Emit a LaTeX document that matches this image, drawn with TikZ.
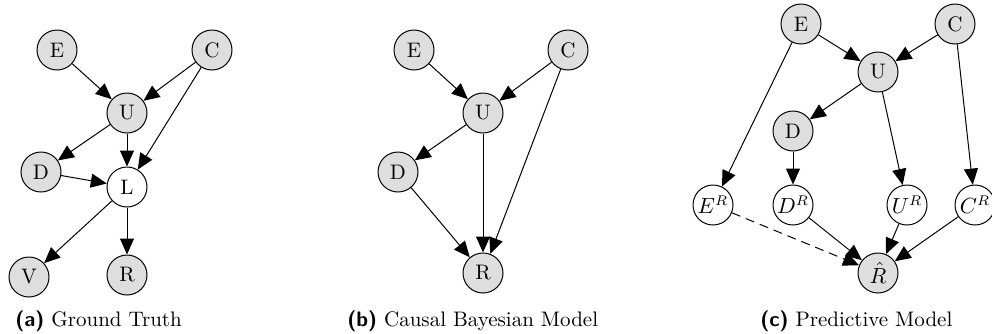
\documentclass[tikz,border=0pt]{standalone}
\usetikzlibrary{arrows.meta}
\begin{document}
\begin{tikzpicture}[x=0.5pt,y=-0.5pt,
  obs/.style={circle,draw,line width=0.5pt,fill=black!13,minimum size=20pt,inner sep=0pt,font=\fontsize{10.5}{12}\selectfont},
  lat/.style={obs,fill=white},
  arr/.style={line width=0.5pt,-{Triangle[length=8pt,width=7pt]}},
  captext/.style={anchor=base west,inner sep=0pt,font=\fontsize{10.5}{12}\selectfont}]
\useasboundingbox (0,0) rectangle (992,333);
% (a)
\node[obs] (aE) at (57,50) {E};
\node[obs] (aC) at (212,50) {C};
\node[obs] (aU) at (127,113) {U};
\node[obs] (aD) at (41,172) {D};
\node[lat] (aL) at (127,187) {L};
\node[obs] (aV) at (29,277) {V};
\node[obs] (aR) at (127,275) {R};
\draw[arr] (aE) -- (aU);
\draw[arr] (aC) -- (aU);
\draw[arr] (aC) -- (aL);
\draw[arr] (aU) -- (aD);
\draw[arr] (aU) -- (aL);
\draw[arr] (aD) -- (aL);
\draw[arr] (aL) -- (aV);
\draw[arr] (aL) -- (aR);
\node[captext] (capa) at (15,326) {\textsf{\bfseries (a)} Ground Truth};
% (b)
\node[obs] (bE) at (414,50) {E};
\node[obs] (bC) at (568,50) {C};
\node[obs] (bU) at (483,113) {U};
\node[obs] (bD) at (398,172) {D};
\node[obs] (bR) at (483,273) {R};
\draw[arr] (bE) -- (bU);
\draw[arr] (bC) -- (bU);
\draw[arr] (bU) -- (bD);
\draw[arr] (bU) -- (bR);
\draw[arr] (bD) -- (bR);
\draw[arr] (bC) -- (bR);
\node[captext] (capb) at (347,326) {\textsf{\bfseries (b)} Causal Bayesian Model};
% (c)
\node[obs] (cE) at (801,24) {E};
\node[obs] (cC) at (955,24) {C};
\node[obs] (cU) at (878,72) {U};
\node[obs] (cD) at (793,131) {D};
\node[lat] (cER) at (713,205) {$E^R$};
\node[lat] (cDR) at (793,205) {$D^R$};
\node[lat] (cUR) at (907,205) {$U^R$};
\node[lat] (cCR) at (975,205) {$C^R$};
\node[obs] (cR) at (878,273) {$\hat{R}$};
\draw[arr] (cE) -- (cU);
\draw[arr] (cC) -- (cU);
\draw[arr] (cU) -- (cD);
\draw[arr] (cE) -- (cER);
\draw[arr] (cD) -- (cDR);
\draw[arr] (cU) -- (cUR);
\draw[arr] (cC) -- (cCR);
\draw[arr,dash pattern=on 4.5pt off 3pt] (cER) -- (cR);
\draw[arr] (cDR) -- (cR);
\draw[arr] (cUR) -- (cR);
\draw[arr] (cCR) -- (cR);
\node[captext] (capc) at (760,326) {\textsf{\bfseries (c)} Predictive Model};
\end{tikzpicture}
\end{document}
